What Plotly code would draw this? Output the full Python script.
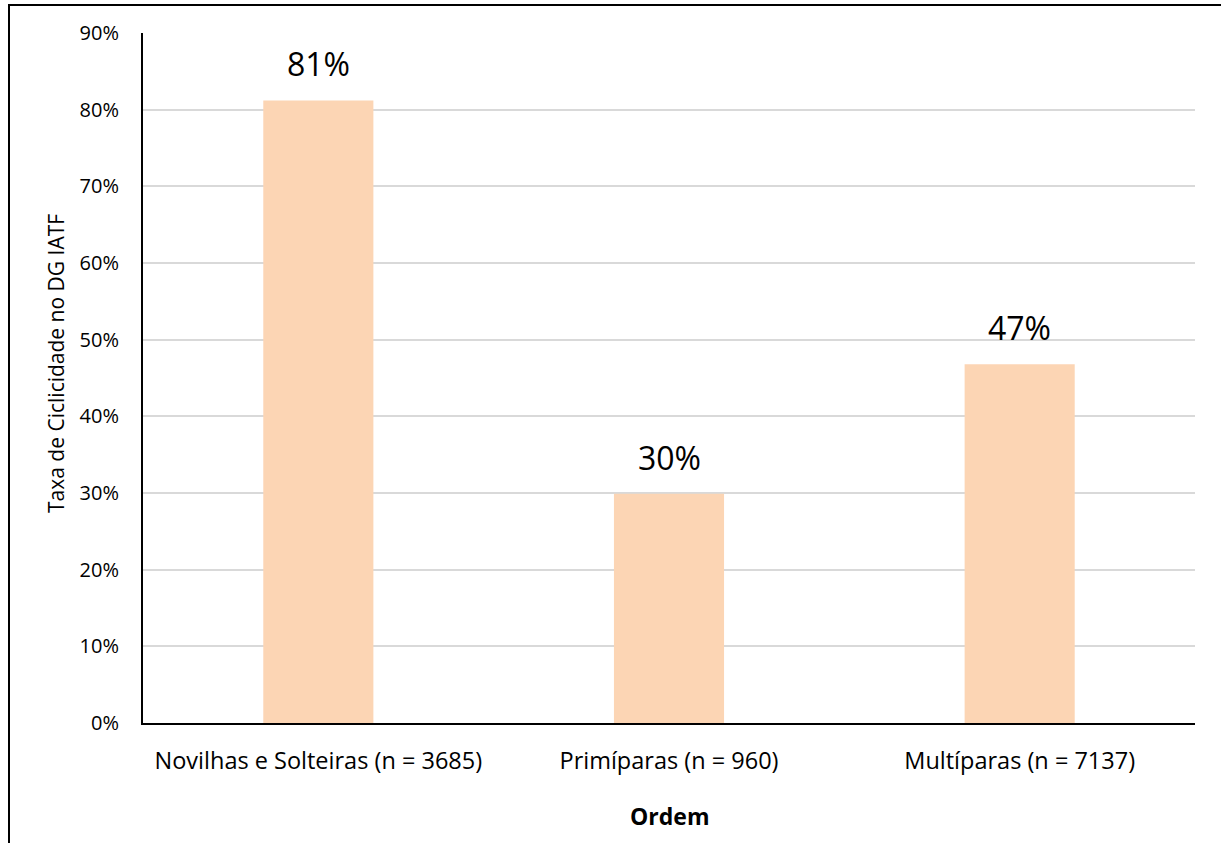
import plotly.graph_objects as go

# ── Data ──────────────────────────────────────────────────────────────────────
categories = [
    "Novilhas e Solteiras (n = 3685)",
    "Primíparas (n = 960)",
    "Multíparas (n = 7137)",
]
rates = [0.812, 0.299, 0.468]
rate_labels = ["81%", "30%", "47%"]
y_ticks = [0, 0.1, 0.2, 0.3, 0.4, 0.5, 0.6, 0.7, 0.8, 0.9]

# ── Style tokens ──────────────────────────────────────────────────────────────
FONT = "Open Sans, Lato, sans-serif"
TEXT = "#000000"
BAR = "#FCD5B4"
GRID = "#D9D9D9"

W, H = 1221, 843
L, R, T, B = 143, 26, 33, 120

fig = go.Figure(go.Bar(
    x=categories,
    y=rates,
    marker=dict(color=BAR, line=dict(width=0)),
    hoverinfo="skip",
))

# data labels above the bars
for cat, val, lab in zip(categories, rates, rate_labels):
    fig.add_annotation(
        x=cat, y=val, text=lab, showarrow=False,
        yanchor="bottom", yshift=13,
        font=dict(family=FONT, size=32, color=TEXT),
    )

plot_w = W - L - R
plot_h = H - T - B

# axis titles
fig.add_annotation(
    xref="paper", yref="paper", x=(56 - L) / plot_w, y=(H - B - 364) / plot_h,
    text="Taxa de Ciclicidade no DG IATF", textangle=-90, showarrow=False,
    xanchor="center", yanchor="middle",
    font=dict(family=FONT, size=21, color=TEXT),
)
fig.add_annotation(
    xref="paper", yref="paper", x=0.5, y=(H - B - 816) / plot_h,
    text="<b>Ordem</b>", showarrow=False,
    xanchor="center", yanchor="middle",
    font=dict(family=FONT, size=23, color=TEXT),
)

# outer chart frame (only top and left edges fall inside the picture)
fig.add_shape(
    type="rect", xref="paper", yref="paper",
    x0=(9 - L) / plot_w, x1=(W + 20 - L) / plot_w,
    y0=(H - B - (H + 20)) / plot_h, y1=(H - B - 5) / plot_h,
    line=dict(color="#000000", width=2), fillcolor="rgba(0,0,0,0)",
    layer="below",
)

fig.update_layout(
    width=W, height=H,
    margin=dict(l=L, r=R, t=T, b=B, autoexpand=False),
    paper_bgcolor="white",
    plot_bgcolor="white",
    showlegend=False,
    bargap=0.686,
    font=dict(family=FONT, color=TEXT, size=20),
    xaxis=dict(
        showline=True, linecolor="#000000", linewidth=2,
        showgrid=False, ticks="", ticklabelstandoff=16,
        tickfont=dict(family=FONT, size=23.5, color=TEXT),
        fixedrange=True,
    ),
    yaxis=dict(
        range=[0, 0.9],
        tickvals=y_ticks,
        tickformat=".0%",
        showline=True, linecolor="#000000", linewidth=2,
        showgrid=True, gridcolor=GRID, gridwidth=2,
        zeroline=False, ticks="", ticklabelstandoff=18,
        tickfont=dict(family=FONT, size=20, color=TEXT),
        fixedrange=True,
    ),
)

# page body margin would shift the figure by 8px
fig.write_html(
    "out.html",
    config={"displayModeBar": False},
    post_script="document.body.style.margin='0';",
)
